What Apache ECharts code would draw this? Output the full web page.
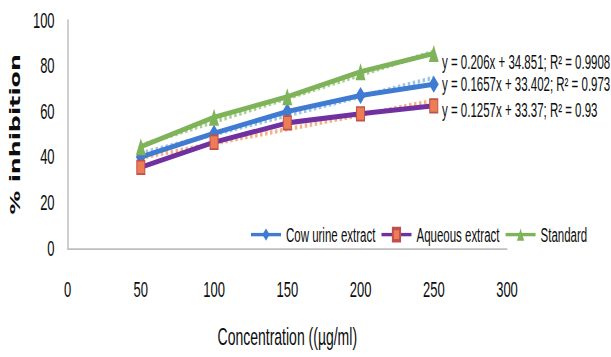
<!DOCTYPE html>
<html>
<head>
<meta charset="utf-8">
<script src="https://cdn.jsdelivr.net/npm/echarts@6/dist/echarts.min.js"></script>
<style>
  html, body { margin: 0; padding: 0; background: #fff; height: 357px; }
  /* the source picture is a vertically stretched export, so draw short and stretch */
  #chart { width: 611px; height: 210px; transform: scaleY(1.7); transform-origin: 0 0; }
</style>
</head>
<body>
<div id="chart"></div>
<script>
// concentrations (µg/ml)
var conc = [50, 100, 150, 200, 250]
var cowUrine = [40, 50.5, 60, 67, 72]
var aqueous = [35.5, 46.5, 55, 59, 62.5]
var standard = [44.5, 57.5, 66.5, 77.5, 85.5]

// trendline equations as printed on the chart
var slopes = [0.206, 0.1657, 0.1257]
var intercepts = [34.851, 33.402, 33.37]
var eqLabels = [
    'y = 0.206x + 34.851; R² = 0.9908',
    'y = 0.1657x + 33.402; R² = 0.973',
    'y = 0.1257x + 33.37; R² = 0.93'
]

var font = '"Liberation Sans", Arial, sans-serif'
var ink = '#0d0d0d'

function pairs(ys) {
    return conc.map(function (x, i) { return [x, ys[i]] })
}
function trend(i) {
    var x0 = conc[0], x1 = conc[conc.length - 1]
    return [[x0, slopes[i] * x0 + intercepts[i]], [x1, slopes[i] * x1 + intercepts[i]]]
}

var chart = echarts.init(document.getElementById('chart'), null, {renderer: 'svg'})

var option = {
    animation: false,
    grid: {left: 65, right: 104, top: 12, bottom: 61.5},
    legend: {
        left: 245, top: 127, width: 400,
        itemWidth: 30, itemHeight: 9, itemGap: 5,
        textStyle: {fontFamily: font, fontSize: 11.5, color: ink},
        data: ['Cow urine extract', 'Aqueous extract', 'Standard']
    },
    xAxis: {
        type: 'value', min: 0, max: 300, interval: 50,
        name: 'Concentration ((µg/ml)',
        nameLocation: 'middle', nameGap: 45,
        nameTextStyle: {fontFamily: font, fontSize: 14, color: ink},
        axisLine: {show: true, lineStyle: {color: '#bfbfbf', width: 1}},
        axisTick: {show: false},
        splitLine: {show: false},
        axisLabel: {margin: 18, fontFamily: font, fontSize: 13, color: ink}
    },
    yAxis: {
        type: 'value', min: 0, max: 100, interval: 20,
        name: '% inhibition',
        nameLocation: 'middle', nameGap: 43,
        nameTextStyle: {fontFamily: '"DejaVu Sans", sans-serif', fontSize: 14, fontWeight: 'bold', color: ink},
        axisLine: {show: true, lineStyle: {color: '#bfbfbf', width: 1.5}},
        axisTick: {show: false},
        splitLine: {show: false},
        axisLabel: {margin: 13, fontFamily: font, fontSize: 13, color: ink}
    },
    series: [
        // dotted linear trendlines
        {type: 'line', data: trend(0), symbol: 'none', silent: true, z: 1,
         lineStyle: {color: '#a9d18e', width: 2.5, type: 'dotted'}},
        {type: 'line', data: trend(1), symbol: 'none', silent: true, z: 1,
         lineStyle: {color: '#9dc3e6', width: 2.5, type: 'dotted'}},
        {type: 'line', data: trend(2), symbol: 'none', silent: true, z: 1,
         lineStyle: {color: '#f4b183', width: 2.5, type: 'dotted'}},
        {
            name: 'Cow urine extract', type: 'line', data: pairs(cowUrine),
            symbol: 'diamond', symbolSize: 10, z: 3,
            lineStyle: {color: '#3f7bd0', width: 3},
            itemStyle: {color: '#3f7bd0'}
        },
        {
            name: 'Aqueous extract', type: 'line', data: pairs(aqueous),
            symbol: 'rect', symbolSize: 8, z: 3,
            lineStyle: {color: '#7030a0', width: 3},
            itemStyle: {color: '#ed7d55', borderColor: '#c0504d', borderWidth: 1}
        },
        {
            name: 'Standard', type: 'line', data: pairs(standard),
            symbol: 'triangle', symbolSize: 10, z: 3,
            lineStyle: {color: '#7fb35a', width: 3},
            itemStyle: {color: '#7fb35a'}
        }
    ],
    graphic: eqLabels.map(function (t, i) {
        return {
            type: 'text', x: 442, y: [36.5, 49, 64.5][i],
            style: {text: t, fontFamily: font, fontSize: 11.5, fill: ink, verticalAlign: 'middle'}
        }
    })
}

chart.setOption(option)
</script>
</body>
</html>
